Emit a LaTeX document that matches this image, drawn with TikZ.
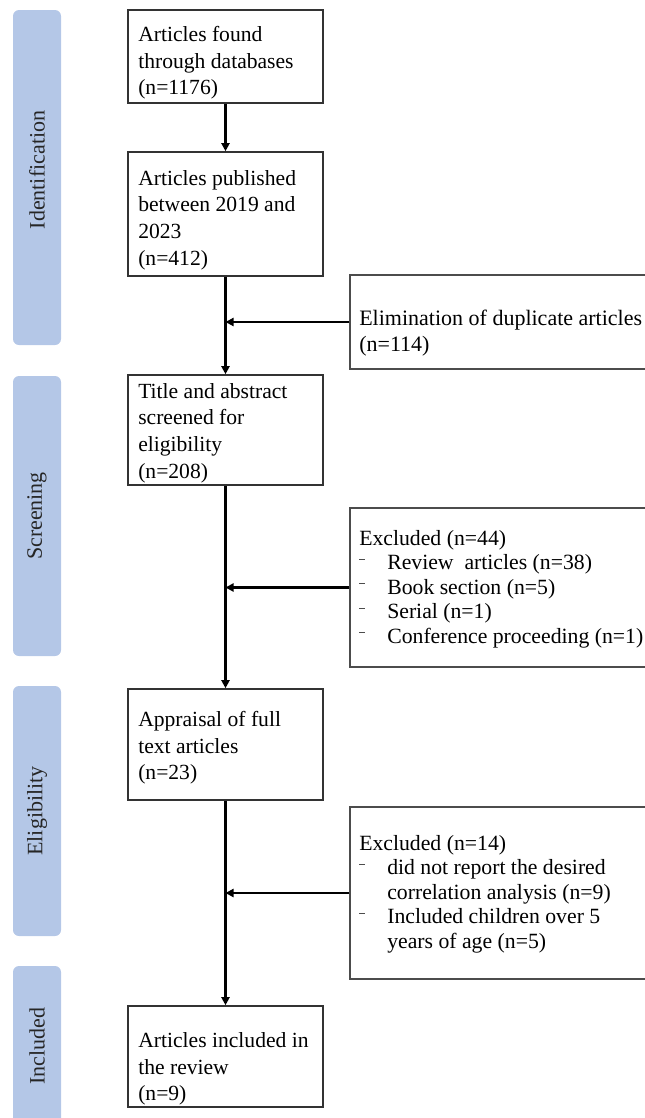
\documentclass[tikz,border=0pt]{standalone}
\usepackage{fontspec}
\setmainfont{Liberation Serif}
\usetikzlibrary{arrows.meta}
\definecolor{phasecol}{HTML}{B4C7E7}
\newcommand\dashitem{\makebox[21pt][l]{\textcolor{black!70}{\rule[7.5pt]{4.5pt}{0.7pt}}}}
\begin{document}
\begin{tikzpicture}[x=0.75pt,y=-0.75pt,
  phasebar/.style={fill=phasecol, rounded corners=4.5pt},
  phasetext/.style={rotate=90, inner sep=0, text=black!85, font=\fontsize{16.5}{19}\selectfont},
  lbox/.style={draw=black!80, line width=1.2pt, fill=white, inner sep=0, minimum width=146.25pt},
  rbox/.style={draw=black!70, line width=1.1pt, fill=white, inner sep=0, minimum width=232.5pt},
  ltext/.style={anchor=west, align=left, inner sep=0, font=\fontsize{16.2}{19.9}\selectfont},
  etext/.style={anchor=west, align=left, inner sep=0, font=\fontsize{16.5}{19.5}\selectfont},
  xtext/.style={anchor=west, align=left, inner sep=0, font=\fontsize{16.3}{18.4}\selectfont},
  flow/.style={line width=1.9pt, -{Triangle[length=6pt,width=6pt]}}
]
\useasboundingbox (0,0) rectangle (645,1118);

% phase bars
\fill[phasebar] (13,10) rectangle (61,345);
\fill[phasebar] (13,376) rectangle (61,656);
\fill[phasebar] (13,686) rectangle (61,936);
\fill[phasebar] (13,966) rectangle (61,1135);
\node[phasetext] (pid) at (37,170) {Identification};
\node[phasetext] (psc) at (37,516) {Screening};
\node[phasetext] (pel) at (37,811) {Eligibility};
\node[phasetext] (pin) at (37,1046) {Included};

% main boxes
\node[lbox, minimum height=69.75pt] (b1) at (225.5,56.5) {};
\node[lbox, minimum height=93pt] (b2) at (225.5,214) {};
\node[lbox, minimum height=82.5pt] (b3) at (225.5,430) {};
\node[lbox, minimum height=83.25pt] (b4) at (225.5,744.5) {};
\node[lbox, minimum height=75.75pt] (b5) at (225.5,1056.5) {};

\node[ltext] (t1) at (138,63) {Articles found\\through databases\\(n=1176)};
\node[ltext] (t2) at (138,220) {Articles published\\between 2019 and\\2023\\(n=412)};
\node[ltext] (t3) at (138,433) {Title and abstract\\screened for\\eligibility\\(n=208)};
\node[ltext] (t4) at (138,748) {Appraisal of full\\text articles\\(n=23)};
\node[ltext] (t5) at (138,1069) {Articles included in\\the review\\(n=9)};

% side boxes
\node[rbox, minimum height=70.5pt] (elim) at (505,322) {};
\node[rbox, minimum height=119.25pt] (ex1) at (505,587.5) {};
\node[rbox, minimum height=129pt] (ex2) at (505,893) {};

\node[etext] (te) at (359,333) {Elimination of duplicate articles\\(n=114)};
\node[xtext] (tx1) at (359,589) {Excluded (n=44)\\
\dashitem Review\ \ articles (n=38)\\
\dashitem Book section (n=5)\\
\dashitem Serial (n=1)\\
\dashitem Conference proceeding (n=1)};
\node[xtext] (tx2) at (359,894) {Excluded (n=14)\\
\dashitem did not report the desired\\
\hspace*{21pt}correlation analysis (n=9)\\
\dashitem Included children over 5\\
\hspace*{21pt}years of age (n=5)};

% connectors
\draw[flow] (b1.south) -- (b2.north);
\draw[flow] (b2.south) -- (b3.north);
\draw[flow] (b3.south) -- (b4.north);
\draw[flow] (b4.south) -- (b5.north);
\draw[flow] (elim.west) -- (elim.west -| b2.south);
\draw[flow] (ex1.west) -- (ex1.west -| b3.south);
\draw[flow] (ex2.west) -- (ex2.west -| b4.south);
\end{tikzpicture}
\end{document}
